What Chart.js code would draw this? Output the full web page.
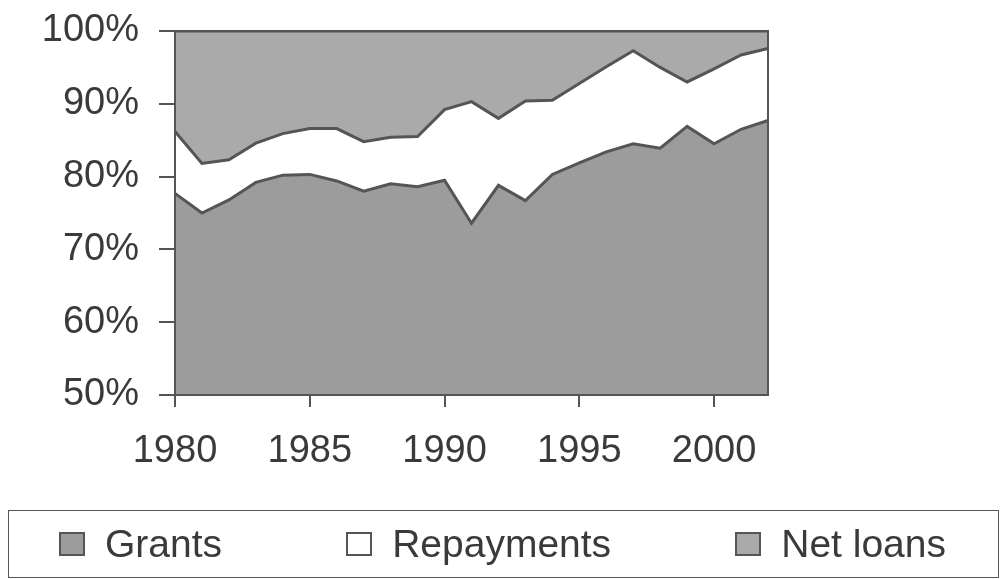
<!DOCTYPE html>
<html>
<head>
<meta charset="utf-8">
<script src="https://cdn.jsdelivr.net/npm/chart.js@4.4.0/dist/chart.umd.min.js"></script>
<style>
  html, body { margin: 0; padding: 0; background: #fff; }
  #wrap { position: relative; width: 1005px; height: 579px; }
  #legend {
    position: absolute; left: 8px; top: 510px; width: 991px; height: 68px;
    box-sizing: border-box; border: 1.5px solid #555;
    display: flex; align-items: center; justify-content: space-between;
    padding: 0 52px 0 50px;
    font-family: "Liberation Sans", Arial, sans-serif; font-size: 39px; color: #3a3a3a;
  }
  .item { display: flex; align-items: center; }
  .box { width: 22px; height: 20px; border: 2px solid #555; margin-right: 20px; }
</style>
</head>
<body>
<div id="wrap">
  <canvas id="chart" width="1005" height="579"></canvas>
  <div id="legend"></div>
</div>
<script>
const years = ['1980','1981','1982','1983','1984','1985','1986','1987','1988','1989','1990',
  '1991','1992','1993','1994','1995','1996','1997','1998','1999','2000','2001','2002'];
const tickYears = ['1980','1985','1990','1995','2000'];

// shares of the total, in %
const grants     = [77.7, 75.0, 76.8, 79.2, 80.2, 80.3, 79.4, 78.0, 79.0, 78.6, 79.5, 73.6,
                    78.8, 76.7, 80.3, 81.9, 83.4, 84.5, 83.9, 86.9, 84.5, 86.5, 87.7];
const repayments = [8.5, 6.8, 5.5, 5.4, 5.7, 6.3, 7.2, 6.8, 6.4, 6.9, 9.7, 16.7,
                    9.2, 13.7, 10.2, 10.9, 11.7, 12.8, 11.1, 6.1, 10.3, 10.2, 9.9];
const netLoans   = [13.8, 18.2, 17.7, 15.4, 14.1, 13.4, 13.4, 15.2, 14.6, 14.5, 10.8, 9.7,
                    12.0, 9.6, 9.5, 7.2, 4.9, 2.7, 5.0, 7.0, 5.2, 3.3, 2.4];

const lineCol = '#555555';
const font = { family: '"Liberation Sans", Arial, sans-serif', size: 38, lineHeight: 1 };

const frame = {
  id: 'frame',
  afterDatasetsDraw(chart) {
    const { ctx, chartArea: a } = chart;
    ctx.save();
    ctx.strokeStyle = lineCol;
    ctx.lineWidth = 2;
    ctx.strokeRect(a.left, a.top, a.right - a.left, a.bottom - a.top);
    ctx.restore();
  }
};

const chart = new Chart(document.getElementById('chart'), {
  type: 'line',
  data: {
    labels: years,
    datasets: [
      { label: 'Grants', data: grants, backgroundColor: '#9c9c9c', fill: 'start' },
      { label: 'Repayments', data: repayments, backgroundColor: '#ffffff', fill: '-1' },
      { label: 'Net loans', data: netLoans, backgroundColor: '#aaaaaa', fill: '-1' }
    ]
  },
  options: {
    responsive: false,
    animation: false,
    layout: { padding: { top: 31, right: 237, bottom: 82, left: 0 } },
    elements: {
      line: { borderColor: lineCol, borderWidth: 3, tension: 0 },
      point: { radius: 0 }
    },
    plugins: { legend: { display: false }, tooltip: { enabled: false } },
    scales: {
      x: {
        afterFit: s => { s.paddingLeft = 0; s.paddingRight = 0; },
        ticks: {
          autoSkip: false, maxRotation: 0, padding: 26, color: '#3a3a3a', font,
          callback: (v, i) => tickYears.includes(years[i]) ? years[i] : null
        },
        grid: { drawOnChartArea: false, tickLength: 12, color: lineCol, lineWidth: 2 },
        border: { color: lineCol, width: 2 }
      },
      y: {
        stacked: true,
        min: 50, max: 100,
        afterFit: s => { s.width = 175; s.paddingTop = 0; s.paddingBottom = 0; },
        ticks: { stepSize: 10, padding: 20, color: '#3a3a3a', font, callback: v => v + '%' },
        grid: { drawOnChartArea: false, tickLength: 16, color: lineCol, lineWidth: 2 },
        border: { color: lineCol, width: 2 }
      }
    }
  },
  plugins: [frame]
});

// legend drawn as html so the wide spacing of the original can be kept
const legend = document.getElementById('legend');
chart.data.datasets.forEach(ds => {
  const item = document.createElement('div');
  item.className = 'item';
  const box = document.createElement('span');
  box.className = 'box';
  box.style.background = ds.backgroundColor;
  const txt = document.createElement('span');
  txt.textContent = ds.label;
  item.append(box, txt);
  legend.append(item);
});
</script>
</body>
</html>
